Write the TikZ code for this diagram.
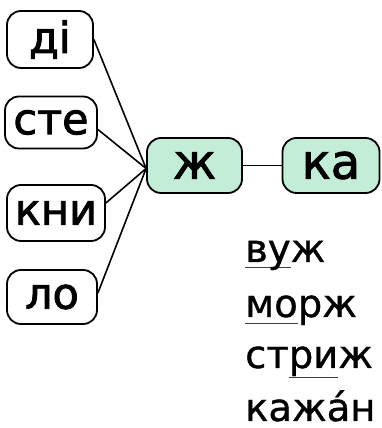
\documentclass[tikz,border=0pt]{standalone}
\usepackage{fontspec}
\setmainfont[FakeBold=1]{DejaVu Sans}
\newfontfamily\boxfont[FakeBold=2]{DejaVu Sans}
\definecolor{mint}{RGB}{195,237,214}
\newcommand\ulsyl[2]{\setbox0\hbox{#2}\rlap{\textcolor{black!75}{\rule[-#1]{\wd0}{1.3pt}}}\box0}
\tikzset{
  wbox/.style={draw=black, line width=1.8pt, rounded corners=14pt, inner sep=0pt, font=\boxfont\fontsize{43}{50}\selectfont},
  gbox/.style={wbox, fill=mint, font=\boxfont\fontsize{48}{55}\selectfont},
  link/.style={line width=1.6pt},
  word/.style={anchor=base west, inner sep=0pt, font=\fontsize{38.5}{50}\selectfont}
}
\begin{document}
\begin{tikzpicture}[x=1pt,y=1pt]
\useasboundingbox (0,0) rectangle (381,428);
\node[wbox, minimum width=86pt, minimum height=57pt] (di) at (50,388.5) {ді};
\node[wbox, minimum width=92pt, minimum height=52pt] (ste) at (51,305.5) {сте};
\node[wbox, minimum width=98pt, minimum height=56pt] (kni) at (56,215) {кни};
\node[wbox, minimum width=90pt, minimum height=54pt] (lo) at (52,131) {ло};
\node[gbox, minimum width=95pt, minimum height=55pt] (zh) at (194.5,262.5) {ж};
\node[gbox, minimum width=97pt, minimum height=55pt] (ka) at (331,262.5) {ка};
\coordinate (hub) at ([yshift=-3pt]zh.west);
\draw[link] (di.east) -- (hub);
\draw[link] ([yshift=-7pt]ste.east) -- (hub);
\draw[link] ([yshift=10pt]kni.east) -- (hub);
\draw[link] ([yshift=4pt]lo.east) -- (hub);
\draw[link] (zh.east) -- (ka.west);
\node[word] (w1) at (245,166) {\ulsyl{6pt}{ву}ж};
\node[word] (w2) at (245,111) {\ulsyl{7pt}{мо}рж};
\node[word] (w3) at (245,60) {ст\ulsyl{10pt}{ри}ж};
\node[word] (w4) at (245,7) {кажа́н};
\end{tikzpicture}
\end{document}
